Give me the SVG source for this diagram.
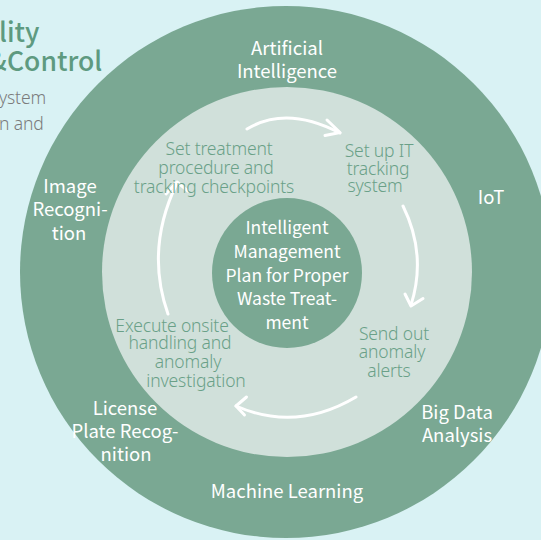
<svg xmlns="http://www.w3.org/2000/svg" width="541" height="540" viewBox="0 0 541 540">
<style>
.ring{font-family:"Noto Sans CJK SC","Source Sans Pro","Noto Sans",sans-serif;font-size:18.5px;font-weight:400;fill:#ffffff;text-anchor:middle}
.step{font-family:"Noto Sans",Lato,sans-serif;font-size:17.5px;font-weight:300;fill:#6aa088;text-anchor:middle;letter-spacing:-0.15px}
.hub{font-family:"Noto Sans CJK SC","Source Sans Pro","Noto Sans",sans-serif;font-size:17.5px;font-weight:400;fill:#ffffff;text-anchor:middle}
.title{font-family:"Noto Sans CJK SC","Source Sans Pro","Noto Sans",sans-serif;font-size:26.5px;font-weight:500;fill:#5e9a80}
.desc{font-family:"Noto Sans",Lato,sans-serif;font-size:17.5px;font-weight:300;fill:#7b7b7b;letter-spacing:-0.15px}
.arc{fill:none;stroke:#ffffff;stroke-width:3;stroke-linecap:round;stroke-linejoin:round}
</style>
<rect x="0" y="0" width="541" height="540" fill="#d9f2f4"/>
<g id="header">
<text class="title" x="-1" y="42">lity</text>
<text class="title" y="71"><tspan x="-12">&amp;</tspan> <tspan x="7">Control</tspan></text>
<text class="desc" x="-1" y="104">ystem</text>
<text class="desc" x="-1" y="130">n and</text>
</g>
<g id="outer-ring">
<circle cx="286" cy="272" r="266" fill="#7aa893"/>
</g>
<g id="inner-ring">
<circle cx="287" cy="272" r="185" fill="#d0e0da"/>
</g>
<g id="connectors">
<path class="arc" d="M247,129 Q286.5,105 340,133"/>
<path class="arc" d="M327,120 L340,132.5 L325,135.5"/>
<path class="arc" d="M403,206 Q427,254.5 411,305"/>
<path class="arc" d="M405,294 L411,306 L423,298.5"/>
<path class="arc" d="M356,397 Q296,432.5 236,406"/>
<path class="arc" d="M246.5,397 L236,406 L244.5,415"/>
<path class="arc" d="M168,314 Q145,249 177,183"/>
<path class="arc" d="M166,194 L177,182 L188,191"/>
</g>
<g id="hub">
<circle cx="287" cy="273" r="75" fill="#7aa893"/>
<text class="hub" x="287" y="234">Intelligent</text>
<text class="hub" x="287" y="258">Management</text>
<text class="hub" x="287" y="282">Plan for Proper</text>
<text class="hub" x="287" y="305">Waste Treat-</text>
<text class="hub" x="287" y="329">ment</text>
</g>
<g id="ai"><text class="ring" x="287" y="55">Artificial</text><text class="ring" x="287" y="78">Intelligence</text></g>
<g id="iot"><text class="ring" x="491" y="204">IoT</text></g>
<g id="big-data"><text class="ring" x="457" y="419">Big Data</text><text class="ring" x="457" y="442">Analysis</text></g>
<g id="machine-learning"><text class="ring" x="287" y="498">Machine Learning</text></g>
<g id="license-plate"><text class="ring" x="125" y="415">License</text><text class="ring" x="125" y="438">Plate Recog-</text><text class="ring" x="126" y="461">nition</text></g>
<g id="image-recognition"><text class="ring" x="70" y="193">Image</text><text class="ring" x="70" y="216">Recogni-</text><text class="ring" x="69" y="240">tion</text></g>
<g id="step-set-procedure"><text class="step" x="219" y="155">Set treatment</text><text class="step" x="216" y="174">procedure and</text><text class="step" x="214" y="193">tracking checkpoints</text></g>
<g id="step-it-tracking"><text class="step" x="379" y="157">Set up IT</text><text class="step" x="378" y="175">tracking</text><text class="step" x="375" y="192">system</text></g>
<g id="step-alerts"><text class="step" x="394" y="340">Send out</text><text class="step" x="392" y="358">anomaly</text><text class="step" x="389" y="377">alerts</text></g>
<g id="step-onsite"><text class="step" x="172" y="332">Execute onsite</text><text class="step" x="180" y="349">handling and</text><text class="step" x="188" y="368">anomaly</text><text class="step" x="196" y="387">investigation</text></g>
</svg>
